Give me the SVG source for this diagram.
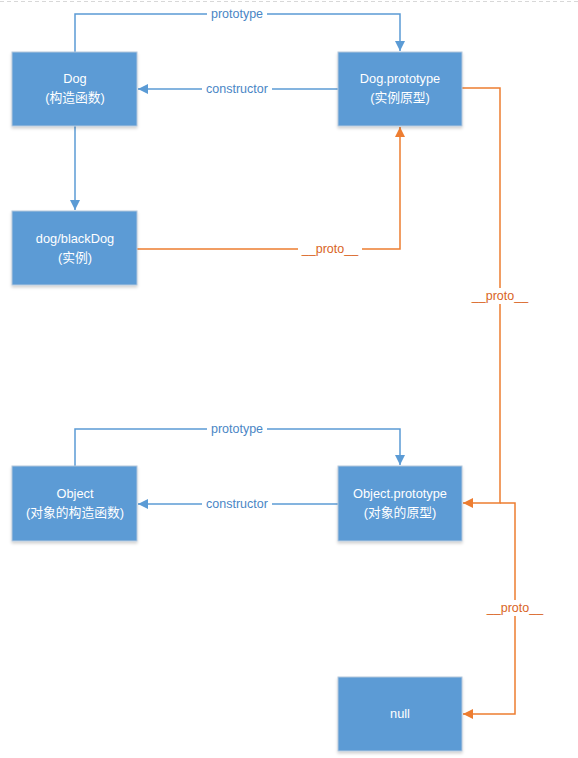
<svg xmlns="http://www.w3.org/2000/svg" width="578" height="758" viewBox="0 0 578 758">
<defs>
<marker id="ab" viewBox="0 0 10 10" refX="10" refY="5" markerWidth="10" markerHeight="10" markerUnits="userSpaceOnUse" orient="auto"><path d="M0,0 L10,5 L0,10 z" fill="#5B9BD5"/></marker>
<marker id="ao" viewBox="0 0 10 10" refX="10" refY="5" markerWidth="10" markerHeight="10" markerUnits="userSpaceOnUse" orient="auto"><path d="M0,0 L10,5 L0,10 z" fill="#ED7D31"/></marker>
<filter id="sh" x="-10%" y="-10%" width="120%" height="130%"><feDropShadow dx="0" dy="2" stdDeviation="1.5" flood-color="#000" flood-opacity="0.18"/></filter>
</defs>
<style>
.box{fill:#5B9BD5;stroke:#B4C7DC;stroke-width:1;filter:url(#sh)}
.t{font-family:"Liberation Sans","Noto Sans CJK SC",sans-serif;font-size:12.8px;fill:#fff;text-anchor:middle}
.bl{fill:none;stroke:#5B9BD5;stroke-width:1.5}
.ol{fill:none;stroke:#ED7D31;stroke-width:1.5}
.lb{font-family:"Liberation Sans",sans-serif;font-size:12.5px;fill:#4A86C5;text-anchor:middle}
.lo{font-family:"Liberation Sans",sans-serif;font-size:12.5px;fill:#D9641E;text-anchor:middle}
.bg{fill:#fff}
</style>
<rect width="578" height="758" fill="#fff"/>
<line x1="0" y1="1.5" x2="578" y2="1.5" stroke="#d8d8d8" stroke-width="1" stroke-dasharray="4,3"/>
<g id="connectors">
<path class="bl" d="M75,52 V14 H400 V51" marker-end="url(#ab)"/>
<path class="bl" d="M338,89 H138" marker-end="url(#ab)"/>
<path class="bl" d="M75,126 V210" marker-end="url(#ab)"/>
<path class="ol" d="M137,249 H400 V127" marker-end="url(#ao)"/>
<path class="ol" d="M462,88 H500 V503 H463" marker-end="url(#ao)"/>
<path class="ol" d="M500,503 H515 V714 H463" marker-end="url(#ao)"/>
<path class="bl" d="M75,466 V429 H400 V465" marker-end="url(#ab)"/>
<path class="bl" d="M338,504 H138" marker-end="url(#ab)"/>
<rect class="bg" x="207" y="6" width="60" height="16"/>
<text class="lb" x="237" y="18">prototype</text>
<rect class="bg" x="202" y="81" width="70" height="16"/>
<text class="lb" x="237" y="93">constructor</text>
<rect class="bg" x="298" y="241" width="64" height="16"/>
<text class="lo" x="330" y="253">__proto__</text>
<rect class="bg" x="468" y="288" width="64" height="16"/>
<text class="lo" x="500" y="300">__proto__</text>
<rect class="bg" x="207" y="421" width="60" height="16"/>
<text class="lb" x="237" y="433">prototype</text>
<rect class="bg" x="202" y="496" width="70" height="16"/>
<text class="lb" x="237" y="508">constructor</text>
<rect class="bg" x="483" y="600" width="64" height="16"/>
<text class="lo" x="515" y="612">__proto__</text>
</g>
<g id="dog"><rect class="box" x="12" y="52" width="125" height="74"/><text class="t" x="75" y="83">Dog</text><text class="t" x="75" y="102">(构造函数)</text></g>
<g id="dogPrototype"><rect class="box" x="338" y="52" width="124" height="74"/><text class="t" x="400" y="83">Dog.prototype</text><text class="t" x="400" y="102">(实例原型)</text></g>
<g id="blackDog"><rect class="box" x="12" y="211" width="125" height="74"/><text class="t" x="75" y="243">dog/blackDog</text><text class="t" x="75" y="262">(实例)</text></g>
<g id="object"><rect class="box" x="12" y="466" width="125" height="75"/><text class="t" x="75" y="498">Object</text><text class="t" x="75" y="517">(对象的构造函数)</text></g>
<g id="objectPrototype"><rect class="box" x="338" y="466" width="124" height="75"/><text class="t" x="400" y="498">Object.prototype</text><text class="t" x="400" y="517">(对象的原型)</text></g>
<g id="null"><rect class="box" x="338" y="677" width="124" height="74"/><text class="t" x="400" y="718">null</text></g>
</svg>
